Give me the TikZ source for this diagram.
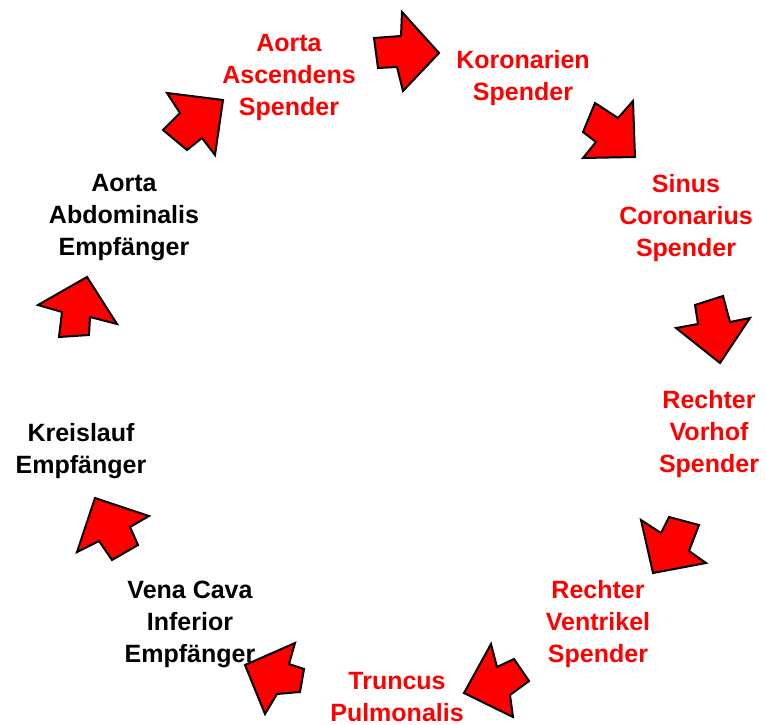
\documentclass[tikz,border=0pt]{standalone}
\usepackage{fontspec}
\setmainfont{Liberation Sans}
\begin{document}
\begin{tikzpicture}[x=0.75pt,y=-0.75pt,
  lbl/.style={font=\bfseries\fontsize{18.75}{24}\selectfont,align=center,inner sep=0pt},
  donor/.style={lbl,text=red},
  recipient/.style={lbl,text=black},
  blockarrow/.style={fill=red,draw=black,line width=1.5pt,line join=miter}]
\useasboundingbox (0,0) rectangle (766,724);

% labels around the circuit
\node[donor]     (aas) at (289,77)  {Aorta\\Ascendens\\Spender};
\node[donor]     (kor) at (523,78)  {Koronarien\\Spender};
\node[donor]     (sin) at (686,218) {Sinus\\Coronarius\\Spender};
\node[donor]     (rvh) at (709,434) {Rechter\\Vorhof\\Spender};
\node[donor]     (rvt) at (598,624) {Rechter\\Ventrikel\\Spender};
\node[donor]     (tru) at (397,697) {Truncus\\Pulmonalis};
\node[recipient] (vci) at (190,624) {Vena Cava\\Inferior\\Empfänger};
\node[recipient] (kre) at (81,451)  {Kreislauf\\Empfänger};
\node[recipient] (aab) at (124,218) {Aorta\\Abdominalis\\Empfänger};

% block arrows between the labels
\draw[blockarrow] (374,38) -- (401,36) -- (402,12) -- (439,53) -- (403,91) -- (397,67) -- (378,68) -- cycle;
\draw[blockarrow] (187,150) -- (163,130) -- (180,113) -- (167,93) -- (223,100) -- (215,155) -- (202,138) -- cycle;
\draw[blockarrow] (583,132) -- (595,103) -- (618,118) -- (633,101) -- (635,157) -- (583,158) -- (596,142) -- cycle;
\draw[blockarrow] (89,335) -- (59,337) -- (62,312) -- (38,305) -- (87,277) -- (117,324) -- (90,317) -- cycle;
\draw[blockarrow] (695,305) -- (723,296) -- (730,322) -- (750,318) -- (720,363) -- (676,328) -- (698,324) -- cycle;
\draw[blockarrow] (138,545) -- (112,560) -- (99,541) -- (77,552) -- (95,498) -- (149,516) -- (130,527) -- cycle;
\draw[blockarrow] (669,517) -- (699,525) -- (689,551) -- (706,563) -- (653,573) -- (641,520) -- (661,533) -- cycle;
\draw[blockarrow] (245,665) -- (295,643) -- (289,664) -- (304,669) -- (300,692) -- (277,694) -- (265,714) -- cycle;
\draw[blockarrow] (491,644) -- (497,667) -- (514,659) -- (529,681) -- (510,695) -- (513,717) -- (464,693) -- cycle;
\end{tikzpicture}
\end{document}
